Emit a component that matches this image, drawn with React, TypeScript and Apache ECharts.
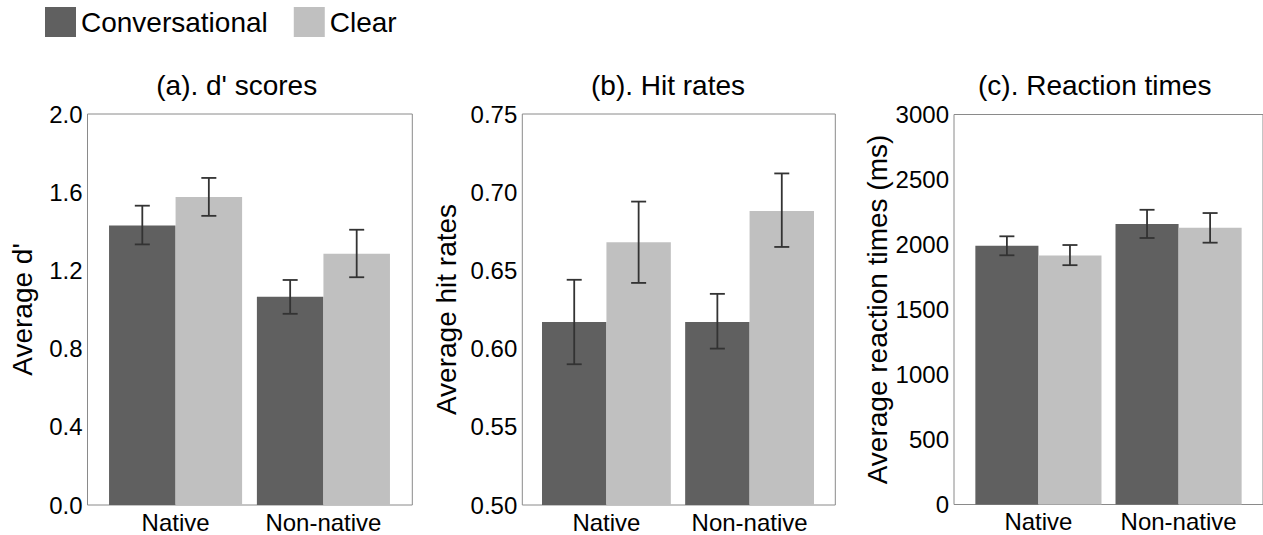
import React, { useEffect, useRef } from "react";
import * as echarts from "echarts";

// ---- data ----
const categories = ["Native", "Non-native"];
const seriesNames = ["Conversational", "Clear"];
const panelTitles = ["(a). d' scores", "(b). Hit rates", "(c). Reaction times"];
const axisNames = ["Average d'", "Average hit rates", "Average reaction times (ms)"];

const dTicks = ["0.0", "0.4", "0.8", "1.2", "1.6", "2.0"];
const hitTicks = ["0.50", "0.55", "0.60", "0.65", "0.70", "0.75"];
const rtTicks = ["0", "500", "1000", "1500", "2000", "2500", "3000"];

const dConv = [1.43, 1.065];
const dClear = [1.575, 1.285];
const dConvCI = [[1.333, 1.531], [0.978, 1.151]];
const dClearCI = [[1.479, 1.673], [1.165, 1.408]];

const hitConv = [0.617, 0.617];
const hitClear = [0.668, 0.688];
const hitConvCI = [[0.590, 0.644], [0.600, 0.635]];
const hitClearCI = [[0.642, 0.694], [0.665, 0.712]];

const rtConv = [1990, 2157];
const rtClear = [1915, 2129];
const rtConvCI = [[1917, 2063], [2050, 2267]];
const rtClearCI = [[1841, 1996], [2014, 2242]];

// ---- layout / style ----
const FONT = "Liberation Sans";
const DARK = "#606060";
const LIGHT = "#c0c0c0";
const BORDER = "#8a8a8a";
const ERR = "#333333";
const GAP = 0.1;

const panels = [
  { ticks: dTicks, conv: dConv, clear: dClear, convCI: dConvCI, clearCI: dClearCI, dec: 1,
    box: { left: 87.5, top: 114, width: 324.8, height: 391 },
    inner: { left: 101.65, width: 295.7 }, titleX: 236.7, nameGap: 51 },
  { ticks: hitTicks, conv: hitConv, clear: hitClear, convCI: hitConvCI, clearCI: hitClearCI, dec: 2,
    box: { left: 522.3, top: 114, width: 313, height: 391 },
    inner: { left: 534.85, width: 286.3 }, titleX: 668, nameGap: 62 },
  { ticks: rtTicks, conv: rtConv, clear: rtClear, convCI: rtConvCI, clearCI: rtClearCI, dec: 0,
    box: { left: 954, top: 114.5, width: 310, height: 390 },
    inner: { left: 968.35, width: 280.3 }, titleX: 1094.7, nameGap: 63 },
];

function buildOption() {
  const grid: any[] = [];
  const xAxis: any[] = [];
  const yAxis: any[] = [];
  const series: any[] = [];
  const title: any[] = [];

  panels.forEach((p, i) => {
    const min = parseFloat(p.ticks[0]);
    const max = parseFloat(p.ticks[p.ticks.length - 1]);
    const interval = parseFloat(p.ticks[1]) - parseFloat(p.ticks[0]);
    const a = 2 * i;
    const b = 2 * i + 1;

    grid.push({
      left: p.box.left, top: p.box.top, width: p.box.width, height: p.box.height,
      show: true, borderColor: BORDER, borderWidth: 1, backgroundColor: "#fff", containLabel: false,
    });
    grid.push({
      left: p.inner.left, top: p.box.top, width: p.inner.width, height: p.box.height,
      show: false, containLabel: false,
    });

    xAxis.push({ gridIndex: a, type: "value", show: false });
    xAxis.push({
      gridIndex: b, type: "category", data: categories,
      axisLine: { show: false }, axisTick: { show: false },
      axisLabel: { interval: 0, margin: 5, color: "#000", fontSize: 24, fontFamily: FONT },
    });

    yAxis.push({
      gridIndex: a, type: "value", min, max, interval,
      axisLine: { show: false }, axisTick: { show: false }, splitLine: { show: false },
      axisLabel: {
        margin: 5, color: "#000", fontSize: 24, fontFamily: FONT,
        formatter: (v: number) => v.toFixed(p.dec),
      },
      name: axisNames[i], nameLocation: "middle", nameGap: p.nameGap,
      nameTextStyle: { color: "#000", fontSize: 28, fontFamily: FONT },
    });
    yAxis.push({ gridIndex: b, type: "value", min, max, interval, show: false });

    title.push({
      text: panelTitles[i], left: p.titleX, top: 71, textAlign: "center", padding: 0,
      textStyle: { color: "#000", fontSize: 28, fontWeight: "normal", fontFamily: FONT },
    });

    const vals = [p.conv, p.clear];
    const cis = [p.convCI, p.clearCI];
    const colors = [DARK, LIGHT];
    [0, 1].forEach((s) => {
      series.push({
        type: "bar", name: seriesNames[s], xAxisIndex: b, yAxisIndex: b,
        data: vals[s], barGap: "0%", barCategoryGap: GAP * 100 + "%",
        itemStyle: { color: colors[s] }, z: 2,
      });
    });
    [0, 1].forEach((s) => {
      const sign = s === 0 ? -1 : 1;
      series.push({
        type: "custom", name: "err-" + i + "-" + s, xAxisIndex: b, yAxisIndex: b, z: 5,
        data: cis[s].map((ci, k) => [k, ci[0], ci[1]]),
        encode: { x: 0, y: [1, 2] },
        renderItem: (params: any, api: any) => {
          const k = api.value(0);
          const lo = api.coord([k, api.value(1)]);
          const hi = api.coord([k, api.value(2)]);
          const band = api.size([1, 0])[0];
          const barW = (band * (1 - GAP)) / 2;
          const x = lo[0] + (sign * barW) / 2;
          const half = 7.5;
          const st = { stroke: ERR, lineWidth: 1.8 };
          return {
            type: "group",
            children: [
              { type: "line", shape: { x1: x, y1: lo[1], x2: x, y2: hi[1] }, style: st },
              { type: "line", shape: { x1: x - half, y1: lo[1], x2: x + half, y2: lo[1] }, style: st },
              { type: "line", shape: { x1: x - half, y1: hi[1], x2: x + half, y2: hi[1] }, style: st },
            ],
          };
        },
      });
    });
  });

  return {
    animation: false,
    backgroundColor: "#fff",
    textStyle: { fontFamily: FONT },
    title,
    legend: {
      data: seriesNames, left: 45, top: 7, padding: 0, icon: "rect",
      itemWidth: 31, itemHeight: 30, itemGap: 26,
      textStyle: { color: "#000", fontSize: 28, fontFamily: FONT },
      selectedMode: false,
    },
    grid, xAxis, yAxis, series,
  };
}

export default function App() {
  const ref = useRef<HTMLDivElement>(null);
  useEffect(() => {
    if (!ref.current) return;
    const chart = echarts.init(ref.current, undefined, { renderer: "svg" });
    chart.setOption(buildOption() as any);
    return () => chart.dispose();
  }, []);
  return (
    <div
      ref={ref}
      style={{ position: "fixed", left: 0, top: 0, width: 1263, height: 535, background: "#fff" }}
    />
  );
}
